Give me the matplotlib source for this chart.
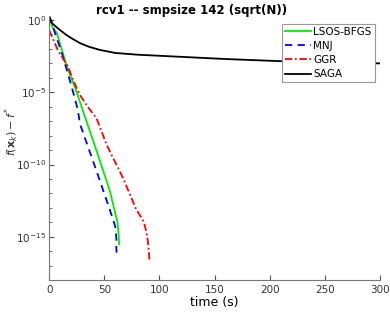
import numpy as np
import matplotlib
matplotlib.use("Agg")
import matplotlib.pyplot as plt
from matplotlib.ticker import LogLocator, NullFormatter

# values (time in s, log10 of gap)
t_lsos = [0, 3, 7, 16, 25, 33, 45, 55, 62, 63, 63.5]
g_lsos = [0.25, -0.5, -0.9, -3.2, -5.0, -6.8, -9.5, -11.8, -14.0, -14.8, -15.5]

t_mnj = [0, 4, 12, 20, 26, 28, 40, 50, 58, 60, 60.5, 61, 60.8, 61.2]
g_mnj = [0.25, -0.6, -2.4, -4.5, -6.2, -7.2, -9.8, -12.0, -13.8, -14.3, -14.6, -15.2, -15.6, -16.1]

t_ggr = [0, 4, 8, 12, 17, 22, 28, 35, 43, 47, 52, 57, 63, 68, 74, 79, 83, 86, 88, 89, 90, 91]
g_ggr = [-0.7, -1.4, -2.1, -2.6, -3.2, -4.2, -5.2, -6.0, -6.8, -7.6, -8.6, -9.4, -10.3, -11.1, -12.2, -13.1, -13.6, -14.0, -14.6, -15.0, -15.6, -16.6]

t_saga = [0, 3, 6, 10, 15, 20, 28, 36, 46, 60, 80, 120, 160, 210, 260, 300]
g_saga = [0.25, -0.25, -0.45, -0.7, -1.0, -1.25, -1.6, -1.85, -2.07, -2.28, -2.4, -2.55, -2.7, -2.85, -2.95, -3.0]

fig = plt.figure(figsize=(3.9, 3.13), dpi=100)
ax = fig.add_axes([0.126, 0.105, 0.848, 0.845])

ax.plot(t_lsos, 10.0 ** np.array(g_lsos), color="#00ee00", lw=1.3, label="LSOS-BFGS")
ax.plot(t_mnj, 10.0 ** np.array(g_mnj), color="#0000ff", lw=1.3, ls=(0, (4, 3)), label="MNJ")
ax.plot(t_ggr, 10.0 ** np.array(g_ggr), color="#ff0000", lw=1.3, ls=(0, (4, 1.5, 1, 1.5)), label="GGR")
ax.plot(t_saga, 10.0 ** np.array(g_saga), color="black", lw=1.3, label="SAGA")

ax.set_yscale("log")
ax.set_xlim(0, 300)
ax.set_ylim(1e-18, 2)
ax.set_xticks([0, 50, 100, 150, 200, 250, 300])
ax.set_yticks([1e-15, 1e-10, 1e-5, 1e0])
ax.yaxis.set_minor_locator(LogLocator(base=10, subs=[1.0], numticks=40))
ax.yaxis.set_minor_formatter(NullFormatter())
ax.tick_params(direction="in", labelsize=7.5, color="#555555", labelcolor="#333333")
ax.tick_params(axis="y", pad=2)
ax.tick_params(which="minor", direction="in", length=2, color="#555555")
for s in ["top", "right"]:
    ax.spines[s].set_visible(False)
for s in ["left", "bottom"]:
    ax.spines[s].set_color("#777777")

fig.text(0.49, 0.968, "rcv1 -- smpsize 142 (sqrt(N))", fontsize=8.5, fontweight="bold",
         ha="center", va="center")
ax.set_xlabel("time (s)", fontsize=9, labelpad=1)
ax.set_ylabel(r"$f(\mathbf{x}_k) - f^{*}$", fontsize=8, color="#333333")
ax.yaxis.set_label_coords(-0.085, 0.56)

leg = ax.legend(loc="upper right", bbox_to_anchor=(0.985, 0.97), fontsize=7.5,
                fancybox=False, framealpha=1, edgecolor="#999999",
                handlelength=2.5, handletextpad=0.2, borderpad=0.3, labelspacing=0.4,
                borderaxespad=0)
leg.get_frame().set_linewidth(0.8)

fig.savefig("out.png", dpi=100)
